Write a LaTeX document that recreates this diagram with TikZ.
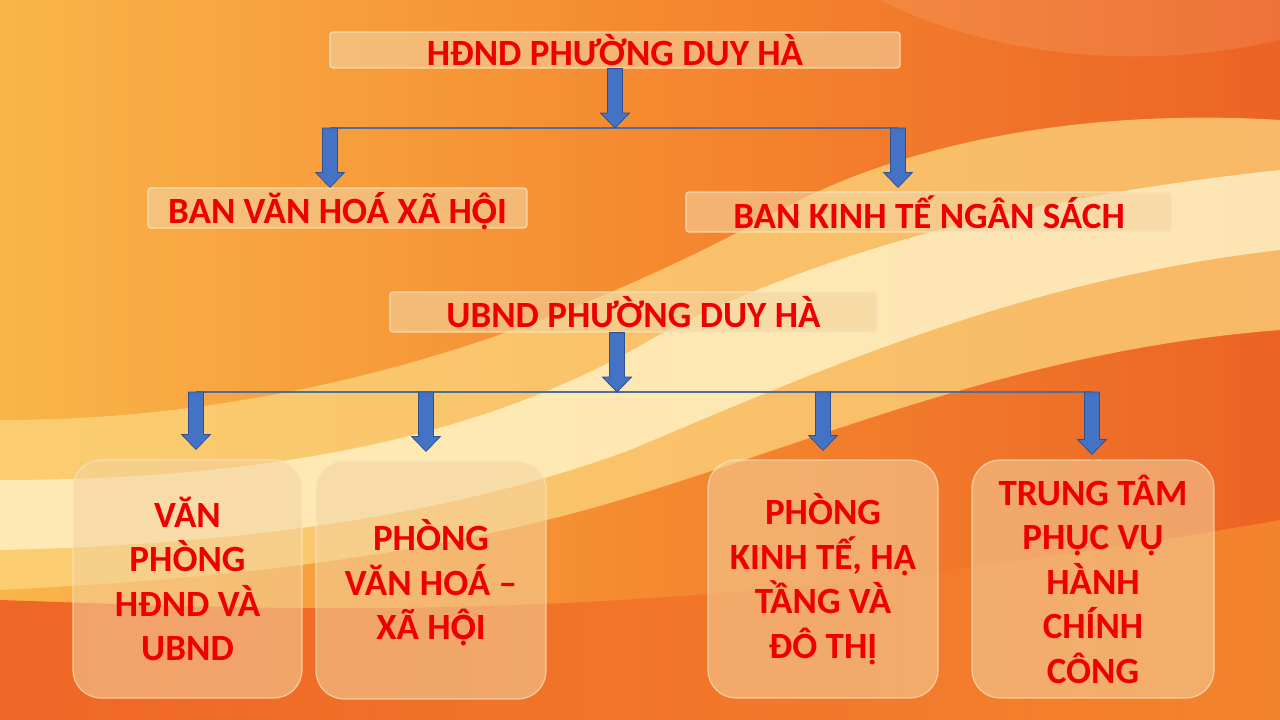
\documentclass[tikz,border=0pt]{standalone}
\usepackage{fontspec}
\setmainfont{Carlito}
\usetikzlibrary{calc}
\definecolor{bgyellow}{HTML}{F9B54A}
\definecolor{bgorange}{HTML}{F58A30}
\definecolor{bgred}{HTML}{EC6324}
\definecolor{bandyellow}{HTML}{FCD67E}
\definecolor{bandcream}{HTML}{FFF1C6}
\definecolor{boxtan}{HTML}{F3D3A0}
\definecolor{boxedge}{HTML}{F9E6C4}
\definecolor{labelred}{HTML}{EE0000}
\definecolor{arrowblue}{HTML}{4472C4}
\definecolor{arrowedge}{HTML}{2F528F}
\definecolor{linkblue}{HTML}{4F6E9E}
% block arrow: [gap] from, to
\newcommand{\blkarrow}[3][0]{\draw[blkarrow] ($(#2)+(-7.5,0)$) -- ($(#3)+(-7.5,-15-#1)$) -- ($(#3)+(-14.5,-15-#1)$) -- ($(#3)+(0,-#1)$) -- ($(#3)+(14.5,-15-#1)$) -- ($(#3)+(7.5,-15-#1)$) -- ($(#2)+(7.5,0)$) -- cycle;}
% O with circumflex and dot below
\newcommand{\Ohoi}{\ooalign{Ọ\cr Ô\cr}}
\begin{document}
\begin{tikzpicture}[x=1pt, y=-1pt,
  bandbox/.style={fill=boxtan, fill opacity=0.6, draw=boxedge, draw opacity=0.8, line width=1.2pt, rounded corners=3pt, text=labelred, text opacity=1, font=\fontsize{37}{40}\bfseries\selectfont, inner sep=0pt},
  unitbox/.style={fill=boxtan, fill opacity=0.55, draw=boxedge, draw opacity=0.7, line width=1.2pt, rounded corners=28pt, text=labelred, text opacity=1, align=center, font=\fontsize{37}{44.5}\bfseries\selectfont, inner sep=0pt},
  blkarrow/.style={fill=arrowblue, draw=arrowedge, line width=0.8pt},
  link/.style={draw=linkblue, line width=1.1pt}]
\useasboundingbox (0,0) rectangle (1280,720);
% background
\shade[left color=bgyellow, right color=bgred, middle color=bgorange] (0,0) rectangle (1280,720);
\fill[bandyellow, opacity=0.75] (0,420) .. controls (300,420) and (560,330) .. (780,210) .. controls (930,130) and (1120,110) .. (1280,120) -- (1280,330) .. controls (1020,350) and (820,440) .. (620,500) .. controls (420,560) and (200,580) .. (0,590) -- cycle;
\fill[bandcream, opacity=0.8] (0,480) .. controls (260,480) and (480,440) .. (650,340) .. controls (800,260) and (1000,200) .. (1280,170) -- (1280,250) .. controls (1020,280) and (820,370) .. (630,450) .. controls (440,520) and (220,545) .. (0,550) -- cycle;
\shade[left color=bgred!90!red, right color=bgorange, opacity=0.85] (0,600) .. controls (300,610) and (650,630) .. (1280,520) -- (1280,720) -- (0,720) -- cycle;
\fill[white, opacity=0.1] (880,0) .. controls (1000,60) and (1150,70) .. (1280,40) -- (1280,0) -- cycle;
% HDND
\node[bandbox, minimum width=570, minimum height=36] (hdnd) at (615,50) {HĐND PHƯỜNG DUY HÀ};
\node[bandbox, minimum width=379, minimum height=40] (bvh) at (337.5,208) {BAN VĂN HOÁ XÃ H\Ohoi I};
\node[bandbox, minimum width=486, minimum height=40] (bkt) at (929,212) {BAN KINH TẾ NGÂN SÁCH};
\coordinate (j1) at (615,128);
\coordinate (l1) at (330,128);
\coordinate (r1) at (898,128);
\draw[link] (l1) -- (r1);
\blkarrow{hdnd.south}{j1}
\blkarrow{l1}{l1 |- bvh.north}
\blkarrow[4]{r1}{r1 |- bkt.north}
% UBND
\node[bandbox, minimum width=487, minimum height=40] (ubnd) at (633.5,312) {UBND PHƯỜNG DUY HÀ};
\node[unitbox, minimum width=229, minimum height=238] (vp) at (187.5,579) {VĂN\\PHÒNG\\HĐND VÀ\\UBND};
\node[unitbox, minimum width=230, minimum height=238] (pvh) at (431,580) {PHÒNG\\VĂN HOÁ –\\XÃ H\Ohoi I};
\node[unitbox, minimum width=230, minimum height=238] (pkt) at (823,579) {PHÒNG\\KINH TẾ, HẠ\\TẦNG VÀ\\ĐÔ THỊ};
\node[unitbox, minimum width=242, minimum height=238] (tt) at (1093,579) {TRUNG TÂM\\PHỤC VỤ\\HÀNH\\CHÍNH\\CÔNG};
\coordinate (j2) at (617,392);
\coordinate (a1) at (196,392);
\coordinate (a2) at (426,392);
\coordinate (a3) at (823,392);
\coordinate (a4) at (1092,392);
\draw[link] (a1) -- (a4);
\blkarrow{j2 |- ubnd.south}{j2}
\blkarrow[10]{a1}{a1 |- vp.north}
\blkarrow[9]{a2}{a2 |- pvh.north}
\blkarrow[9]{a3}{a3 |- pkt.north}
\blkarrow[5]{a4}{a4 |- tt.north}
\end{tikzpicture}
\end{document}
